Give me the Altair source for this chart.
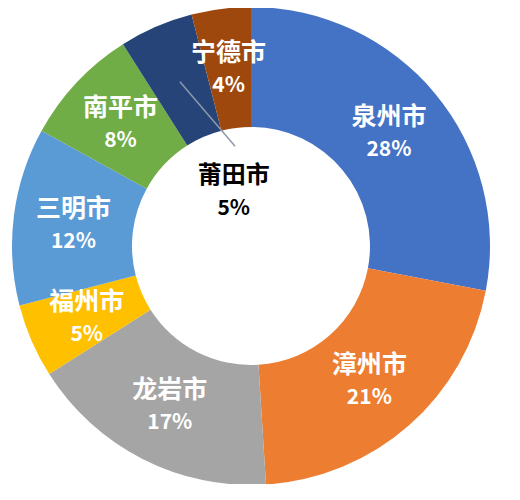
import altair as alt
import pandas as pd

# ---- data ----
names = ["泉州市", "漳州市", "龙岩市", "福州市", "三明市", "南平市", "莆田市", "宁德市"]
shares = [28, 21, 17, 5, 12, 8, 5, 4]
colors = ["#4472C4", "#ED7D31", "#A5A5A5", "#FFC000", "#5B9BD5", "#70AD47", "#264478", "#9E480E"]
center_label_city = "莆田市"

df = pd.DataFrame({"name": names, "share": shares, "idx": list(range(len(names)))})
df["pct"] = df["share"].astype(str) + "%"
df["ring_name"] = [n if n != center_label_city else "" for n in names]
df["ring_pct"] = [p if n != center_label_city else "" for n, p in zip(names, df["pct"])]
df["mid_name"] = [n if n == center_label_city else "" for n in names]
df["mid_pct"] = [p if n == center_label_city else "" for n, p in zip(names, df["pct"])]

# ---- layout / style ----
W, H = 486, 476
R_OUT, R_IN, R_LAB, R_MID = 239, 119, 179, 56
FONT = "Noto Sans CJK SC"
LEADER_INNER_R = 101
LEADER_INNER_TURN = 0.25

base = alt.Chart(df).encode(
    theta=alt.Theta("share:Q", stack=True),
    order=alt.Order("idx:Q"),
    detail="name:N",
)

arcs = base.mark_arc(outerRadius=R_OUT, innerRadius=R_IN).encode(
    color=alt.Color("name:N", scale=alt.Scale(domain=names, range=colors), legend=None)
)

ring_name = base.mark_text(radius=R_LAB, dy=-15, font=FONT, fontSize=25,
                           fontWeight="bold", color="white").encode(text="ring_name:N")
ring_pct = base.mark_text(radius=R_LAB, dy=18, font=FONT, fontSize=21,
                          fontWeight="bold", color="white").encode(text="ring_pct:N")
mid_name = base.mark_text(radius=R_MID, dx=5, dy=-19, font=FONT, fontSize=24,
                          fontWeight="bold", color="black").encode(text="mid_name:N")
mid_pct = base.mark_text(radius=R_MID, dx=5, dy=14, font=FONT, fontSize=21,
                         fontWeight="bold", color="black").encode(text="mid_pct:N")

leader = (
    alt.Chart(df)
    .transform_joinaggregate(total="sum(share)")
    .transform_window(cum="sum(share)", sort=[alt.SortField("idx")], frame=[None, 0])
    .transform_calculate(mid="(datum.cum - datum.share/2) / datum.total * 2 * PI")
    .transform_filter(alt.datum.name == center_label_city)
    .transform_calculate(
        x0=f"{R_LAB} * sin(datum.mid)",
        y0=f"{R_LAB} * cos(datum.mid)",
        x1=f"{LEADER_INNER_R} * sin(datum.mid + {LEADER_INNER_TURN})",
        y1=f"{LEADER_INNER_R} * cos(datum.mid + {LEADER_INNER_TURN})",
    )
    .mark_rule(color="#8E99AB", strokeWidth=1.5)
    .encode(
        x=alt.X("x0:Q", scale=alt.Scale(domain=[-W / 2, W / 2], nice=False, zero=False), axis=None),
        y=alt.Y("y0:Q", scale=alt.Scale(domain=[-H / 2, H / 2], nice=False, zero=False), axis=None),
        x2="x1:Q",
        y2="y1:Q",
    )
)

chart = (
    alt.layer(arcs, leader, ring_name, ring_pct, mid_name, mid_pct)
    .properties(width=W, height=H, padding=0, autosize=alt.AutoSizeParams(type="none"),
                background="white")
    .configure_view(stroke=None)
)

chart.save("out.html", embed_options={"renderer": "svg", "actions": False})
